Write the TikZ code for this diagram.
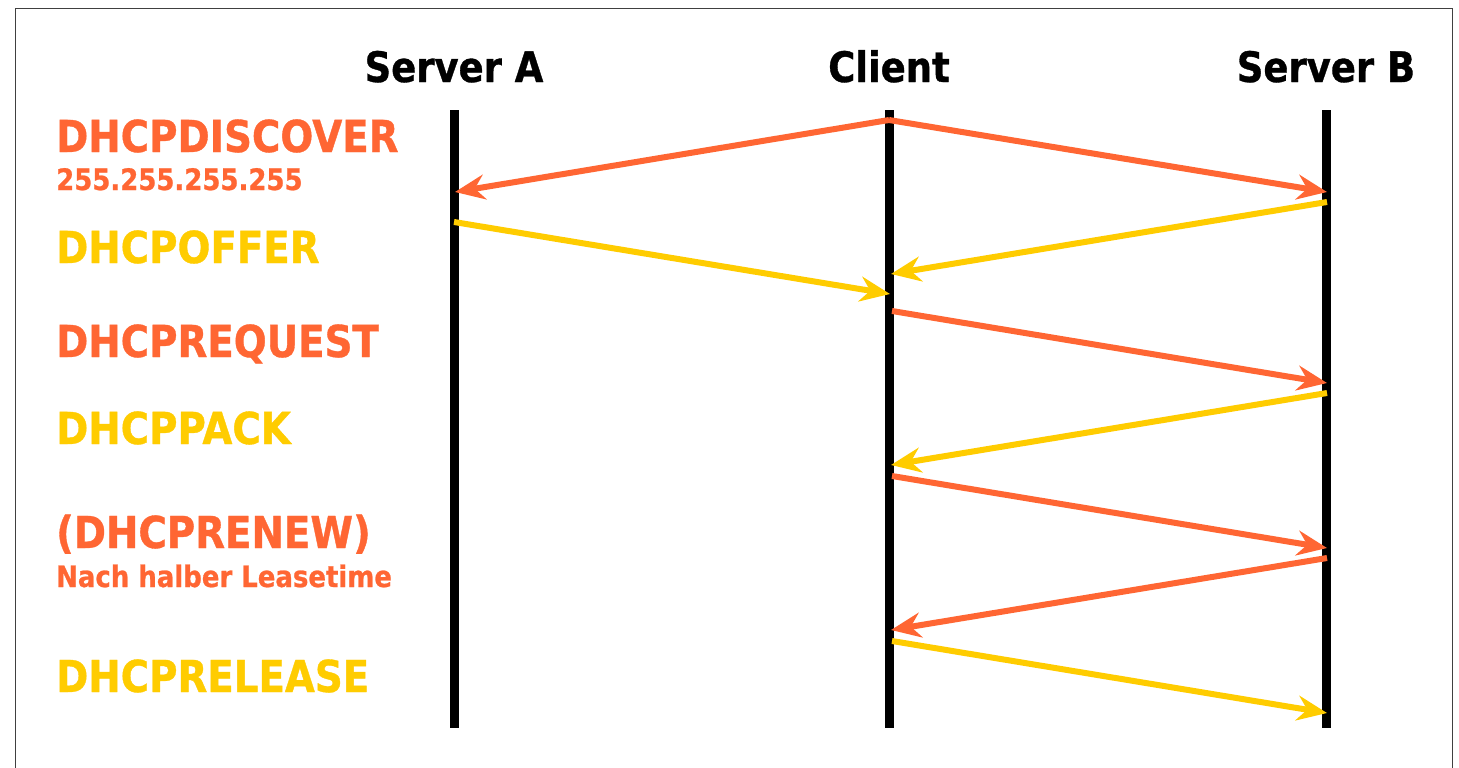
\documentclass[tikz,border=0pt]{standalone}
\usepackage{fontspec}
\setmainfont{DejaVu Sans}[FakeStretch=0.88, BoldFeatures={FakeBold=0.8}]
\usetikzlibrary{arrows.meta}
\definecolor{dhcporange}{HTML}{FF6633}
\definecolor{dhcpyellow}{HTML}{FFCC00}
\begin{document}
\begin{tikzpicture}[x=1pt,y=-1pt,
  head/.style={font=\bfseries\fontsize{42}{42}\selectfont, anchor=base, inner sep=0},
  msg/.style={font=\bfseries\fontsize{44}{44}\selectfont, anchor=base west, inner sep=0},
  note/.style={font=\bfseries\fontsize{29.5}{29.5}\selectfont, anchor=base west, inner sep=0},
  lifeline/.style={line width=9pt},
  flow/.style={line width=6pt, -{Stealth[length=30pt,width=25pt,inset=10pt]}},
]
% page and frame
\useasboundingbox (0,0) rectangle (1459,768);
\clip (0,0) rectangle (1459,768);
\fill[white] (0,0) rectangle (1459,768);
\draw[line width=1.5pt, black!75] (15.5,8.5) rectangle (1452.5,790);

% participants
\node[head] (hA) at (454,82) {Server A};
\node[head] (hC) at (889,82) {Client};
\node[head] (hB) at (1326,82) {Server B};

% lifelines
\coordinate (At) at (454,110); \coordinate (Ab) at (454,728);
\coordinate (Ct) at (889,110); \coordinate (Cb) at (889,728);
\coordinate (Bt) at (1326,110); \coordinate (Bb) at (1326,728);
\draw[lifeline] (At) -- (Ab);
\draw[lifeline] (Ct) -- (Cb);
\draw[lifeline] (Bt) -- (Bb);

% message names
\node[msg, text=dhcporange] (lDisc) at (56,152) {DHCPDISCOVER};
\node[note, text=dhcporange] (lBcast) at (56,190) {255.255.255.255};
\node[msg, text=dhcpyellow] (lOffer) at (56,263) {DHCPOFFER};
\node[msg, text=dhcporange] (lReq) at (56,357) {DHCPREQUEST};
\node[msg, text=dhcpyellow] (lAck) at (56,444) {DHCPPACK};
\node[msg, text=dhcporange] (lRenew) at (56,548) {(DHCPRENEW)};
\node[note, text=dhcporange] (lHalf) at (56,587) {Nach halber Leasetime};
\node[msg, text=dhcpyellow] (lRel) at (56,692) {DHCPRELEASE};

% message end points on the lifelines
\coordinate (c1) at (889,120);
\coordinate (a1) at (455,192);
\coordinate (b1) at (1327,192);
\coordinate (b2) at (1327,202);
\coordinate (c2) at (891,274);
\coordinate (a2) at (454,222);
\coordinate (c3) at (890,294);
\coordinate (c4) at (892,311);
\coordinate (b4) at (1327,383);
\coordinate (b5) at (1327,393);
\coordinate (c5) at (891,465);
\coordinate (c6) at (892,476);
\coordinate (b6) at (1327,548);
\coordinate (b7) at (1327,558);
\coordinate (c7) at (891,630);
\coordinate (c8) at (892,641);
\coordinate (b8) at (1327,713);

% messages
\draw[flow, dhcporange] (c1) -- (a1);
\draw[flow, dhcporange] (c1) -- (b1);
\draw[flow, dhcpyellow] (b2) -- (c2);
\draw[flow, dhcpyellow] (a2) -- (c3);
\draw[flow, dhcporange] (c4) -- (b4);
\draw[flow, dhcpyellow] (b5) -- (c5);
\draw[flow, dhcporange] (c6) -- (b6);
\draw[flow, dhcporange] (b7) -- (c7);
\draw[flow, dhcpyellow] (c8) -- (b8);
\end{tikzpicture}
\end{document}
